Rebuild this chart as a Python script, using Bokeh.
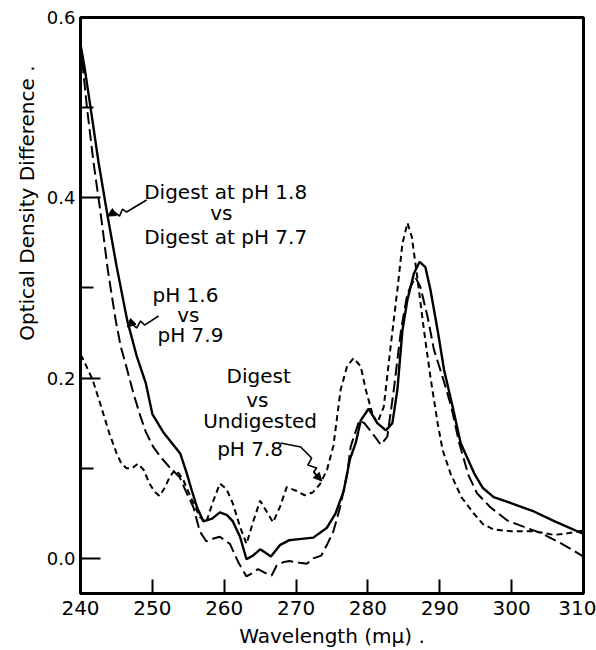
from bokeh.plotting import figure
from bokeh.models import Range1d, FixedTicker, PrintfTickFormatter, Title, Arrow, NormalHead, ColumnDataSource
from bokeh.core.properties import value
from bokeh.embed import file_html
from bokeh.resources import INLINE

# ---------------- data ----------------
x_ticks = [240, 250, 260, 270, 280, 290, 300, 310]
y_ticks = [0.0, 0.2, 0.4, 0.6]
y_minor_ticks = [0.1, 0.3, 0.5]

# Digest at pH 1.8 vs Digest at pH 7.7 (solid)
solid_x = [240.0, 240.5, 241.4, 242.5, 243.7, 245.0, 246.5, 247.8, 249.1, 250.0, 251.6, 252.8, 253.9, 254.8,
           255.5, 256.2, 257.1, 258.3, 259.4, 260.4, 261.2, 262.2, 263.1, 264.0, 265.0, 265.8, 266.5, 267.8,
           269.0, 270.1, 272.4, 274.3, 275.5, 276.6, 277.5, 278.3, 279.0, 280.1, 281.3, 282.5, 283.4, 284.1,
           284.8, 285.5, 286.4, 287.2, 288.0, 288.7, 289.7, 290.6, 291.8, 292.9, 294.8, 296.0, 297.5, 300.0,
           303.1, 306.0, 310.0]
solid_y = [0.570, 0.548, 0.500, 0.440, 0.383, 0.325, 0.264, 0.225, 0.194, 0.160, 0.139, 0.127, 0.116, 0.094,
           0.075, 0.057, 0.041, 0.044, 0.051, 0.048, 0.041, 0.024, -0.001, 0.003, 0.010, 0.006, 0.002, 0.015,
           0.020, 0.021, 0.023, 0.034, 0.050, 0.074, 0.110, 0.128, 0.153, 0.166, 0.150, 0.142, 0.150, 0.187,
           0.253, 0.287, 0.316, 0.329, 0.323, 0.298, 0.253, 0.209, 0.168, 0.128, 0.094, 0.078, 0.068, 0.061,
           0.052, 0.041, 0.027]

# pH 1.6 vs pH 7.9 (long dashes)
long_x = [240.0, 240.9, 241.8, 242.8, 243.8, 244.9, 245.6, 246.4, 247.3, 248.2, 249.1, 250.1, 251.2, 252.4,
          253.8, 254.8, 255.7, 256.6, 257.5, 258.5, 259.4, 260.8, 262.0, 263.1, 264.0, 264.7, 265.9, 266.6,
          267.3, 268.3, 269.1, 270.5, 271.5, 272.4, 273.5, 274.3, 275.2, 276.1, 277.1, 277.6, 278.8, 279.5,
          280.6, 281.8, 282.7, 283.6, 284.6, 285.5, 286.6, 287.3, 288.3, 289.2, 290.4, 291.6, 292.7, 294.0,
          295.2, 297.0, 299.4, 302.0, 304.1, 307.0, 310.0]
long_y = [0.570, 0.500, 0.440, 0.383, 0.320, 0.264, 0.235, 0.212, 0.185, 0.161, 0.140, 0.124, 0.112, 0.101,
          0.090, 0.072, 0.057, 0.030, 0.019, 0.022, 0.024, 0.016, -0.005, -0.020, -0.016, -0.012, -0.017, -0.019,
          -0.008, -0.004, -0.003, -0.005, -0.006, 0.000, 0.003, 0.015, 0.030, 0.056, 0.093, 0.124, 0.153, 0.150,
          0.139, 0.126, 0.135, 0.187, 0.253, 0.294, 0.312, 0.301, 0.268, 0.231, 0.201, 0.168, 0.128, 0.092,
          0.072, 0.057, 0.042, 0.034, 0.028, 0.016, 0.002]

# Digest vs Undigested pH 7.8 (short dashes)
short_x = [240.0, 240.3, 241.7, 243.0, 244.0, 245.0, 245.7, 246.4, 247.2, 248.0, 248.8, 249.6, 250.3, 251.0,
           251.7, 252.4, 253.1, 253.7, 254.3, 255.5, 256.6, 257.5, 258.4, 259.4, 260.3, 261.2, 262.2, 263.1,
           264.0, 265.0, 265.9, 266.8, 267.8, 268.7, 270.0, 271.2, 272.3, 273.3, 274.3, 275.2, 276.2, 277.1,
           278.0, 279.0, 279.7, 280.6, 281.3, 282.2, 283.1, 284.1, 284.8, 285.5, 286.1, 286.8, 287.8, 288.7,
           289.7, 290.4, 291.5, 293.0, 294.7, 296.0, 297.5, 300.0, 303.1, 305.9, 308.0, 310.0]
short_y = [0.226, 0.222, 0.198, 0.165, 0.139, 0.117, 0.105, 0.100, 0.100, 0.105, 0.098, 0.083, 0.074, 0.069,
           0.078, 0.090, 0.098, 0.094, 0.087, 0.065, 0.046, 0.040, 0.062, 0.083, 0.077, 0.061, 0.035, 0.016,
           0.040, 0.064, 0.052, 0.040, 0.058, 0.079, 0.075, 0.070, 0.073, 0.082, 0.098, 0.125, 0.187, 0.213,
           0.222, 0.213, 0.187, 0.161, 0.150, 0.168, 0.231, 0.298, 0.349, 0.372, 0.357, 0.316, 0.253, 0.201,
           0.150, 0.120, 0.094, 0.068, 0.050, 0.038, 0.032, 0.030, 0.030, 0.026, 0.028, 0.031]

# annotation texts
ann_text = ["Digest at pH 1.8", "vs", "Digest at pH 7.7",
            "pH 1.6", "vs", "pH 7.9",
            "Digest", "vs", "Undigested", "pH 7.8"]
ann_x = [260.2, 259.6, 260.2,
         254.6, 255.0, 255.3,
         264.8, 264.6, 265.0, 263.6]
ann_y = [0.406, 0.383, 0.357,
         0.292, 0.270, 0.248,
         0.202, 0.176, 0.152, 0.121]

# squiggly pointer lines
ptr_xs = [[249.19, 246.41, 245.85, 245.43, 244.74, 243.76],
          [250.86, 248.91, 248.36, 247.80, 247.10, 246.55],
          [267.86, 270.64, 272.17, 271.62, 272.87, 272.45, 273.57]]
ptr_ys = [[0.3975, 0.3842, 0.3875, 0.3797, 0.3842, 0.3797],
          [0.2688, 0.2588, 0.2633, 0.2555, 0.2610, 0.2566],
          [0.1279, 0.1235, 0.1113, 0.1035, 0.1002, 0.0957, 0.0858]]

FONT = "DejaVu Sans"

p = figure(width=596, height=650, output_backend="svg", toolbar_location=None,
           x_range=Range1d(240, 310), y_range=Range1d(-0.039, 0.6),
           min_border_left=80, min_border_right=13, min_border_top=17, min_border_bottom=57)
p.background_fill_color = "white"
p.border_fill_color = "white"
p.grid.visible = False
p.outline_line_color = "black"
p.outline_line_width = 3

p.xaxis.ticker = FixedTicker(ticks=x_ticks)
p.xaxis.major_tick_in = 14
p.xaxis.major_tick_out = 0
p.xaxis.minor_tick_in = 0
p.xaxis.minor_tick_out = 0
p.xaxis.major_label_standoff = 7
p.xaxis.major_label_text_font_size = "20px"
p.xaxis.axis_label = "Wavelength (m\u03bc) ."
p.xaxis.axis_label_standoff = 6
p.xaxis.axis_label_text_font = FONT
p.xaxis.axis_label_text_font_size = "20px"
p.xaxis.axis_label_text_font_style = "normal"
p.xaxis.axis_label_text_color = "black"

p.yaxis.ticker = FixedTicker(ticks=y_ticks, minor_ticks=y_minor_ticks)
p.yaxis.formatter = PrintfTickFormatter(format="%.1f")
p.yaxis.major_tick_in = 20
p.yaxis.major_tick_out = 0
p.yaxis.minor_tick_in = 13
p.yaxis.minor_tick_out = 0
p.yaxis.major_label_standoff = 5
p.yaxis.major_label_text_font_size = "18px"

for ax in (p.xaxis, p.yaxis):
    ax.axis_line_width = 3
    ax.axis_line_color = "black"
    ax.major_tick_line_width = 2
    ax.minor_tick_line_width = 2
    ax.major_tick_line_color = "black"
    ax.minor_tick_line_color = "black"
    ax.major_label_text_font = FONT
    ax.major_label_text_color = "black"

p.add_layout(Title(text="Optical Density Difference .", align="right", offset=48,
                   text_font=FONT, text_font_size="20px", text_font_style="normal",
                   text_color="black"), "left")

p.line(solid_x, solid_y, line_color="black", line_width=2.4)
p.line(long_x, long_y, line_color="black", line_width=2, line_dash="12 5")
p.line(short_x, short_y, line_color="black", line_width=2, line_dash="6 4")

src = ColumnDataSource(dict(x=ann_x, y=ann_y, text=ann_text))
p.text(x="x", y="y", text="text", source=src, text_font=value(FONT), text_font_size=value("20px"),
       text_align="center", text_baseline="alphabetic", text_color="black")

p.multi_line(ptr_xs, ptr_ys, line_color="black", line_width=1.6)
for xs, ys in zip(ptr_xs, ptr_ys):
    p.add_layout(Arrow(end=NormalHead(size=8, fill_color="black", line_color="black"),
                       x_start=xs[-2], y_start=ys[-2], x_end=xs[-1], y_end=ys[-1],
                       line_color="black", line_width=1.6))

open("out.html", "w").write(file_html(p, INLINE))
